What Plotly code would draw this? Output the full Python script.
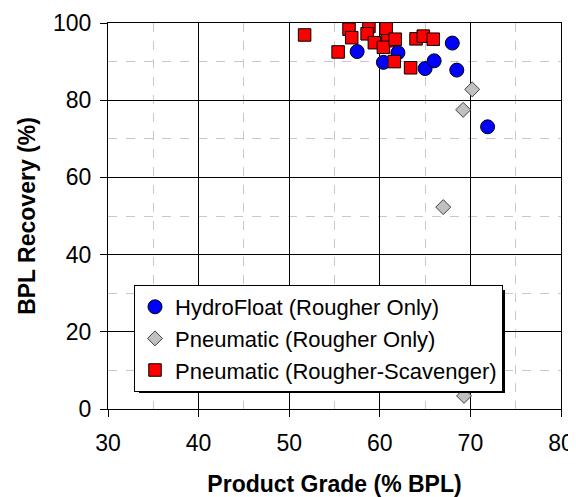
import plotly.graph_objects as go

# HydroFloat (Rougher Only)
hydro_grade = [57.5, 60.4, 62.0, 65.0, 66.0, 68.0, 68.5, 71.9]
hydro_rec = [92.6, 89.8, 92.3, 88.2, 90.2, 94.8, 87.8, 73.1]

# Pneumatic (Rougher Only)
pneu_grade = [70.2, 69.2, 67.0, 69.3]
pneu_rec = [82.8, 77.5, 52.3, 3.4]

# Pneumatic (Rougher-Scavenger)
rs_grade = [51.7, 55.4, 56.6, 56.9, 58.8, 58.6, 59.4, 60.7, 60.9, 60.4, 61.7, 61.6, 63.4, 64.0, 64.8, 65.9]
rs_rec = [96.9, 92.5, 98.4, 96.2, 99.1, 97.2, 94.9, 98.5, 95.4, 93.7, 95.8, 90.0, 88.4, 95.9, 96.6, 95.8]

x_ticks = [30, 40, 50, 60, 70, 80]
y_ticks = [0, 20, 40, 60, 80, 100]

FONT = "Liberation Sans, Arial, sans-serif"

fig = go.Figure()
fig.add_trace(go.Scatter(
    x=hydro_grade, y=hydro_rec, mode="markers", name="HydroFloat (Rougher Only)",
    marker=dict(symbol="circle", size=14, color="#0000FF", line=dict(color="black", width=1))))
fig.add_trace(go.Scatter(
    x=pneu_grade, y=pneu_rec, mode="markers", name="Pneumatic (Rougher Only)",
    marker=dict(symbol="diamond", size=11.5, color="#C0C0C0", line=dict(color="#404040", width=1))))
fig.add_trace(go.Scatter(
    x=rs_grade, y=rs_rec, mode="markers", name="Pneumatic (Rougher-Scavenger)",
    marker=dict(symbol="square", size=12.5, color="#FF0000", line=dict(color="black", width=1))))

# page body has an 8px margin; figure sized to fit the window
OFF = 8
W, H = 576 - OFF, 497 - OFF
L, R, T, B = 108 - OFF, 15, 23 - OFF, 88
pw, ph = W - L - R, H - T - B

def px_x(p):  # window pixel -> paper x
    return (p - OFF - L) / pw

def px_y(p):  # window pixel -> paper y
    return (T + ph - (p - OFF)) / ph

# legend shadow
fig.add_shape(type="rect", xref="paper", yref="paper",
              x0=px_x(139), x1=px_x(505), y0=px_y(393), y1=px_y(290),
              fillcolor="black", line=dict(width=0), layer="above")

fig.update_layout(
    width=W, height=H,
    margin=dict(l=L, r=R, t=T, b=B, autoexpand=False),
    paper_bgcolor="white", plot_bgcolor="white",
    font=dict(family=FONT, size=22, color="black"),
    showlegend=True, hovermode=False,
    legend=dict(x=px_x(134), y=px_y(285), xanchor="left", yanchor="top",
                bgcolor="white", bordercolor="black", borderwidth=1,
                font=dict(family=FONT, size=22, color="black"),
                tracegroupgap=0),
    xaxis=dict(range=[30, 80], tickvals=x_ticks, ticktext=[str(v) for v in x_ticks],
               automargin=False,
               showgrid=True, gridcolor="black", gridwidth=1,
               minor=dict(dtick=5, tick0=0, showgrid=True, gridcolor="#C8C8C8", griddash="dash", gridwidth=1),
               showline=True, linecolor="black", linewidth=1, mirror=True,
               ticks="outside", ticklen=7, tickcolor="black",
               zeroline=False, ticklabelstandoff=6,
               tickfont=dict(family=FONT, size=23),
               title=dict(text="<b>Product Grade (% BPL)</b>", font=dict(family=FONT, size=23), standoff=28)),
    yaxis=dict(range=[0, 100], tickvals=y_ticks, ticktext=[str(v) for v in y_ticks],
               automargin=False,
               showgrid=True, gridcolor="black", gridwidth=1,
               minor=dict(dtick=10, tick0=0, showgrid=True, gridcolor="#C8C8C8", griddash="dash", gridwidth=1),
               showline=True, linecolor="black", linewidth=1, mirror=True,
               ticks="outside", ticklen=7, tickcolor="black",
               zeroline=False, ticklabelstandoff=4,
               tickfont=dict(family=FONT, size=23),
               title=dict(text="<b>BPL Recovery (%)</b>", font=dict(family=FONT, size=23), standoff=10)),
)

fig.write_html("out.html", config={"displayModeBar": False})
